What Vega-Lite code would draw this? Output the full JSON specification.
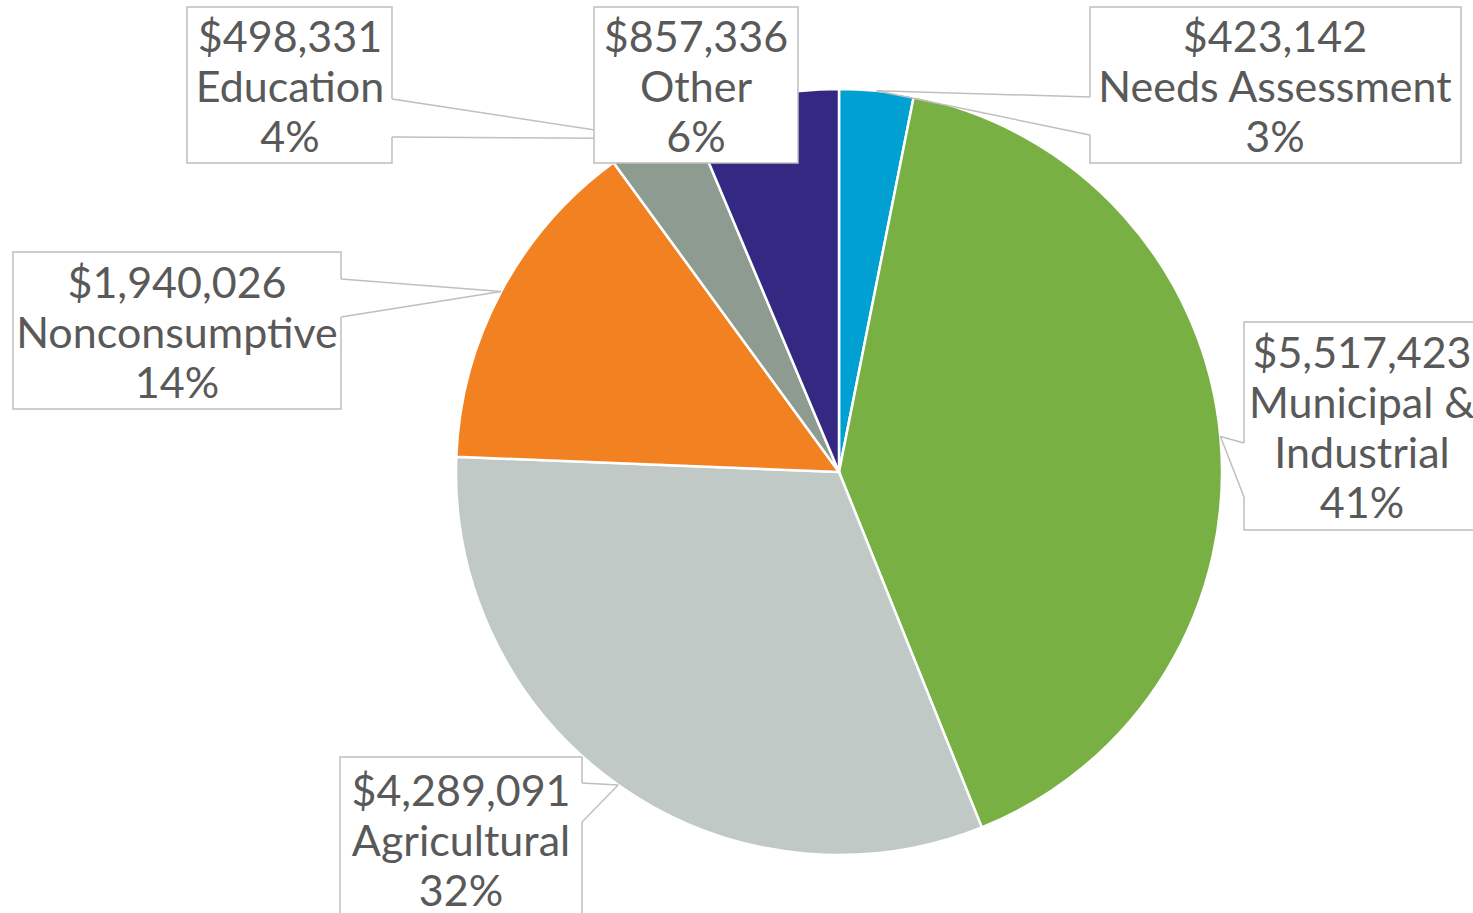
{
  "$schema": "https://vega.github.io/schema/vega-lite/v6.json",
  "width": 1473,
  "height": 913,
  "autosize": {"type": "none"},
  "padding": 0,
  "background": "white",
  "config": {"view": {"stroke": null}},
  "data": {"values": [
    {"rank": 1, "category": "Needs Assessment", "value": 423142},
    {"rank": 2, "category": "Municipal & Industrial", "value": 5517423},
    {"rank": 3, "category": "Agricultural", "value": 4289091},
    {"rank": 4, "category": "Nonconsumptive", "value": 1940026},
    {"rank": 5, "category": "Education", "value": 498331},
    {"rank": 6, "category": "Other", "value": 857336}
  ]},
  "transform": [
    {"joinaggregate": [{"op": "sum", "field": "value", "as": "total"}]},
    {"window": [{"op": "sum", "field": "value", "as": "cum"}], "sort": [{"field": "rank"}], "frame": [null, 0]},
    {"calculate": "(datum.cum - datum.value / 2) / datum.total * 2 * PI", "as": "mid"},
    {"calculate": "sin(datum.mid)", "as": "tipx"},
    {"calculate": "cos(datum.mid)", "as": "tipy"},
    {"calculate": "'$' + format(datum.value, ',') + '\\n' + replace(datum.category, ' & ', ' &\\n') + '\\n' + format(datum.value / datum.total, '.0%')", "as": "label"}
  ],
  "layer": [
    {
      "mark": {"type": "arc", "outerRadius": 383, "stroke": "white", "strokeWidth": 2.5},
      "encoding": {
        "theta": {"field": "value", "type": "quantitative", "stack": true},
        "order": {"field": "rank", "type": "quantitative"},
        "color": {"field": "category", "type": "nominal", "legend": null,
          "scale": {"domain": ["Needs Assessment", "Municipal & Industrial", "Agricultural", "Nonconsumptive", "Education", "Other"],
                    "range": ["#00A0D2", "#78B043", "#C0C9C5", "#F28122", "#8E9B90", "#332882"]}},
        "x": {"datum": 0, "type": "quantitative", "axis": null, "scale": {"domain": [-2.19003, 1.65492], "nice": false, "zero": false}},
        "y": {"datum": 0, "type": "quantitative", "axis": null, "scale": {"domain": [-1.15114, 1.23206], "nice": false, "zero": false}}
      }
    },
    {
      "transform": [{"filter": "datum.category == 'Education'"}],
      "layer": [
        {"mark": {"type": "rect", "fill": "white", "stroke": "#BFBFBF", "strokeWidth": 1.5},
         "encoding": {
           "x": {"datum": -1.7019, "type": "quantitative", "axis": null, "scale": {"domain": [-2.19003, 1.65492], "nice": false, "zero": false}},
           "x2": {"datum": -1.1668},
           "y": {"datum": 1.2138, "type": "quantitative", "axis": null, "scale": {"domain": [-1.15114, 1.23206], "nice": false, "zero": false}},
           "y2": {"datum": 0.8066}}},
        {"mark": {"type": "rule", "stroke": "white", "strokeWidth": 3},
         "encoding": {
           "x": {"datum": -1.1668, "type": "quantitative", "axis": null, "scale": {"domain": [-2.19003, 1.65492], "nice": false, "zero": false}},
           "x2": {"datum": -1.1668},
           "y": {"datum": 0.9736, "type": "quantitative", "axis": null, "scale": {"domain": [-1.15114, 1.23206], "nice": false, "zero": false}},
           "y2": {"datum": 0.8744}}},
        {"mark": {"type": "rule", "stroke": "#BFBFBF", "strokeWidth": 1.5},
         "encoding": {
           "x": {"field": "tipx", "type": "quantitative", "axis": null, "scale": {"domain": [-2.19003, 1.65492], "nice": false, "zero": false}},
           "x2": {"datum": -1.1668},
           "y": {"field": "tipy", "type": "quantitative", "axis": null, "scale": {"domain": [-1.15114, 1.23206], "nice": false, "zero": false}},
           "y2": {"datum": 0.9736}}},
        {"mark": {"type": "rule", "stroke": "#BFBFBF", "strokeWidth": 1.5},
         "encoding": {
           "x": {"field": "tipx", "type": "quantitative", "axis": null, "scale": {"domain": [-2.19003, 1.65492], "nice": false, "zero": false}},
           "x2": {"datum": -1.1668},
           "y": {"field": "tipy", "type": "quantitative", "axis": null, "scale": {"domain": [-1.15114, 1.23206], "nice": false, "zero": false}},
           "y2": {"datum": 0.8744}}},
        {"mark": {"type": "text", "font": "Lato", "fontSize": 43, "fill": "#595959", "lineHeight": 50, "lineBreak": "\n", "align": "center", "baseline": "middle"},
         "encoding": {
           "x": {"datum": -1.4331, "type": "quantitative", "axis": null, "scale": {"domain": [-2.19003, 1.65492], "nice": false, "zero": false}},
           "y": {"datum": 1.1303, "type": "quantitative", "axis": null, "scale": {"domain": [-1.15114, 1.23206], "nice": false, "zero": false}},
           "text": {"field": "label"}}}
      ]
    },
    {
      "transform": [{"filter": "datum.category == 'Nonconsumptive'"}],
      "layer": [
        {"mark": {"type": "rect", "fill": "white", "stroke": "#BFBFBF", "strokeWidth": 1.5},
         "encoding": {
           "x": {"datum": -2.1561, "type": "quantitative", "axis": null, "scale": {"domain": [-2.19003, 1.65492], "nice": false, "zero": false}},
           "x2": {"datum": -1.2999},
           "y": {"datum": 0.5743, "type": "quantitative", "axis": null, "scale": {"domain": [-1.15114, 1.23206], "nice": false, "zero": false}},
           "y2": {"datum": 0.1644}}},
        {"mark": {"type": "rule", "stroke": "white", "strokeWidth": 3},
         "encoding": {
           "x": {"datum": -1.2999, "type": "quantitative", "axis": null, "scale": {"domain": [-2.19003, 1.65492], "nice": false, "zero": false}},
           "x2": {"datum": -1.2999},
           "y": {"datum": 0.5038, "type": "quantitative", "axis": null, "scale": {"domain": [-1.15114, 1.23206], "nice": false, "zero": false}},
           "y2": {"datum": 0.4046}}},
        {"mark": {"type": "rule", "stroke": "#BFBFBF", "strokeWidth": 1.5},
         "encoding": {
           "x": {"field": "tipx", "type": "quantitative", "axis": null, "scale": {"domain": [-2.19003, 1.65492], "nice": false, "zero": false}},
           "x2": {"datum": -1.2999},
           "y": {"field": "tipy", "type": "quantitative", "axis": null, "scale": {"domain": [-1.15114, 1.23206], "nice": false, "zero": false}},
           "y2": {"datum": 0.5038}}},
        {"mark": {"type": "rule", "stroke": "#BFBFBF", "strokeWidth": 1.5},
         "encoding": {
           "x": {"field": "tipx", "type": "quantitative", "axis": null, "scale": {"domain": [-2.19003, 1.65492], "nice": false, "zero": false}},
           "x2": {"datum": -1.2999},
           "y": {"field": "tipy", "type": "quantitative", "axis": null, "scale": {"domain": [-1.15114, 1.23206], "nice": false, "zero": false}},
           "y2": {"datum": 0.4046}}},
        {"mark": {"type": "text", "font": "Lato", "fontSize": 43, "fill": "#595959", "lineHeight": 50, "lineBreak": "\n", "align": "center", "baseline": "middle"},
         "encoding": {
           "x": {"datum": -1.7280, "type": "quantitative", "axis": null, "scale": {"domain": [-2.19003, 1.65492], "nice": false, "zero": false}},
           "y": {"datum": 0.4881, "type": "quantitative", "axis": null, "scale": {"domain": [-1.15114, 1.23206], "nice": false, "zero": false}},
           "text": {"field": "label"}}}
      ]
    },
    {
      "transform": [{"filter": "datum.category == 'Agricultural'"}],
      "layer": [
        {"mark": {"type": "rect", "fill": "white", "stroke": "#BFBFBF", "strokeWidth": 1.5},
         "encoding": {
           "x": {"datum": -1.3025, "type": "quantitative", "axis": null, "scale": {"domain": [-2.19003, 1.65492], "nice": false, "zero": false}},
           "x2": {"datum": -0.6708},
           "y": {"datum": -0.7439, "type": "quantitative", "axis": null, "scale": {"domain": [-1.15114, 1.23206], "nice": false, "zero": false}},
           "y2": {"datum": -1.2216}}},
        {"mark": {"type": "rule", "stroke": "white", "strokeWidth": 3},
         "encoding": {
           "x": {"datum": -0.6708, "type": "quantitative", "axis": null, "scale": {"domain": [-2.19003, 1.65492], "nice": false, "zero": false}},
           "x2": {"datum": -0.6708},
           "y": {"datum": -0.8118, "type": "quantitative", "axis": null, "scale": {"domain": [-1.15114, 1.23206], "nice": false, "zero": false}},
           "y2": {"datum": -0.9136}}},
        {"mark": {"type": "rule", "stroke": "#BFBFBF", "strokeWidth": 1.5},
         "encoding": {
           "x": {"field": "tipx", "type": "quantitative", "axis": null, "scale": {"domain": [-2.19003, 1.65492], "nice": false, "zero": false}},
           "x2": {"datum": -0.6708},
           "y": {"field": "tipy", "type": "quantitative", "axis": null, "scale": {"domain": [-1.15114, 1.23206], "nice": false, "zero": false}},
           "y2": {"datum": -0.8118}}},
        {"mark": {"type": "rule", "stroke": "#BFBFBF", "strokeWidth": 1.5},
         "encoding": {
           "x": {"field": "tipx", "type": "quantitative", "axis": null, "scale": {"domain": [-2.19003, 1.65492], "nice": false, "zero": false}},
           "x2": {"datum": -0.6708},
           "y": {"field": "tipy", "type": "quantitative", "axis": null, "scale": {"domain": [-1.15114, 1.23206], "nice": false, "zero": false}},
           "y2": {"datum": -0.9136}}},
        {"mark": {"type": "text", "font": "Lato", "fontSize": 43, "fill": "#595959", "lineHeight": 50, "lineBreak": "\n", "align": "center", "baseline": "middle"},
         "encoding": {
           "x": {"datum": -0.9867, "type": "quantitative", "axis": null, "scale": {"domain": [-2.19003, 1.65492], "nice": false, "zero": false}},
           "y": {"datum": -0.8379, "type": "quantitative", "axis": null, "scale": {"domain": [-1.15114, 1.23206], "nice": false, "zero": false}},
           "text": {"field": "label"}}}
      ]
    },
    {
      "transform": [{"filter": "datum.category == 'Municipal & Industrial'"}],
      "layer": [
        {"mark": {"type": "rect", "fill": "white", "stroke": "#BFBFBF", "strokeWidth": 1.5},
         "encoding": {
           "x": {"datum": 1.0572, "type": "quantitative", "axis": null, "scale": {"domain": [-2.19003, 1.65492], "nice": false, "zero": false}},
           "x2": {"datum": 1.72},
           "y": {"datum": 0.3915, "type": "quantitative", "axis": null, "scale": {"domain": [-1.15114, 1.23206], "nice": false, "zero": false}},
           "y2": {"datum": -0.1514}}},
        {"mark": {"type": "rule", "stroke": "white", "strokeWidth": 3},
         "encoding": {
           "x": {"datum": 1.0572, "type": "quantitative", "axis": null, "scale": {"domain": [-2.19003, 1.65492], "nice": false, "zero": false}},
           "x2": {"datum": 1.0572},
           "y": {"datum": 0.0757, "type": "quantitative", "axis": null, "scale": {"domain": [-1.15114, 1.23206], "nice": false, "zero": false}},
           "y2": {"datum": -0.0653}}},
        {"mark": {"type": "rule", "stroke": "#BFBFBF", "strokeWidth": 1.5},
         "encoding": {
           "x": {"field": "tipx", "type": "quantitative", "axis": null, "scale": {"domain": [-2.19003, 1.65492], "nice": false, "zero": false}},
           "x2": {"datum": 1.0572},
           "y": {"field": "tipy", "type": "quantitative", "axis": null, "scale": {"domain": [-1.15114, 1.23206], "nice": false, "zero": false}},
           "y2": {"datum": 0.0757}}},
        {"mark": {"type": "rule", "stroke": "#BFBFBF", "strokeWidth": 1.5},
         "encoding": {
           "x": {"field": "tipx", "type": "quantitative", "axis": null, "scale": {"domain": [-2.19003, 1.65492], "nice": false, "zero": false}},
           "x2": {"datum": 1.0572},
           "y": {"field": "tipy", "type": "quantitative", "axis": null, "scale": {"domain": [-1.15114, 1.23206], "nice": false, "zero": false}},
           "y2": {"datum": -0.0653}}},
        {"mark": {"type": "text", "font": "Lato", "fontSize": 43, "fill": "#595959", "lineHeight": 50, "lineBreak": "\n", "align": "center", "baseline": "middle"},
         "encoding": {
           "x": {"datum": 1.3652, "type": "quantitative", "axis": null, "scale": {"domain": [-2.19003, 1.65492], "nice": false, "zero": false}},
           "y": {"datum": 0.3054, "type": "quantitative", "axis": null, "scale": {"domain": [-1.15114, 1.23206], "nice": false, "zero": false}},
           "text": {"field": "label"}}}
      ]
    },
    {
      "transform": [{"filter": "datum.category == 'Needs Assessment'"}],
      "layer": [
        {"mark": {"type": "rect", "fill": "white", "stroke": "#BFBFBF", "strokeWidth": 1.5},
         "encoding": {
           "x": {"datum": 0.6552, "type": "quantitative", "axis": null, "scale": {"domain": [-2.19003, 1.65492], "nice": false, "zero": false}},
           "x2": {"datum": 1.6236},
           "y": {"datum": 1.2138, "type": "quantitative", "axis": null, "scale": {"domain": [-1.15114, 1.23206], "nice": false, "zero": false}},
           "y2": {"datum": 0.8066}}},
        {"mark": {"type": "rule", "stroke": "white", "strokeWidth": 3},
         "encoding": {
           "x": {"datum": 0.6552, "type": "quantitative", "axis": null, "scale": {"domain": [-2.19003, 1.65492], "nice": false, "zero": false}},
           "x2": {"datum": 0.6552},
           "y": {"datum": 0.9789, "type": "quantitative", "axis": null, "scale": {"domain": [-1.15114, 1.23206], "nice": false, "zero": false}},
           "y2": {"datum": 0.8797}}},
        {"mark": {"type": "rule", "stroke": "#BFBFBF", "strokeWidth": 1.5},
         "encoding": {
           "x": {"field": "tipx", "type": "quantitative", "axis": null, "scale": {"domain": [-2.19003, 1.65492], "nice": false, "zero": false}},
           "x2": {"datum": 0.6552},
           "y": {"field": "tipy", "type": "quantitative", "axis": null, "scale": {"domain": [-1.15114, 1.23206], "nice": false, "zero": false}},
           "y2": {"datum": 0.9789}}},
        {"mark": {"type": "rule", "stroke": "#BFBFBF", "strokeWidth": 1.5},
         "encoding": {
           "x": {"field": "tipx", "type": "quantitative", "axis": null, "scale": {"domain": [-2.19003, 1.65492], "nice": false, "zero": false}},
           "x2": {"datum": 0.6552},
           "y": {"field": "tipy", "type": "quantitative", "axis": null, "scale": {"domain": [-1.15114, 1.23206], "nice": false, "zero": false}},
           "y2": {"datum": 0.8797}}},
        {"mark": {"type": "text", "font": "Lato", "fontSize": 43, "fill": "#595959", "lineHeight": 50, "lineBreak": "\n", "align": "center", "baseline": "middle"},
         "encoding": {
           "x": {"datum": 1.1381, "type": "quantitative", "axis": null, "scale": {"domain": [-2.19003, 1.65492], "nice": false, "zero": false}},
           "y": {"datum": 1.1303, "type": "quantitative", "axis": null, "scale": {"domain": [-1.15114, 1.23206], "nice": false, "zero": false}},
           "text": {"field": "label"}}}
      ]
    },
    {
      "transform": [{"filter": "datum.category == 'Other'"}],
      "layer": [
        {"mark": {"type": "rect", "fill": "white", "stroke": "#BFBFBF", "strokeWidth": 1.5},
         "encoding": {
           "x": {"datum": -0.6395, "type": "quantitative", "axis": null, "scale": {"domain": [-2.19003, 1.65492], "nice": false, "zero": false}},
           "x2": {"datum": -0.1070},
           "y": {"datum": 1.2138, "type": "quantitative", "axis": null, "scale": {"domain": [-1.15114, 1.23206], "nice": false, "zero": false}},
           "y2": {"datum": 0.8066}}},
        {"mark": {"type": "text", "font": "Lato", "fontSize": 43, "fill": "#595959", "lineHeight": 50, "lineBreak": "\n", "align": "center", "baseline": "middle"},
         "encoding": {
           "x": {"datum": -0.3733, "type": "quantitative", "axis": null, "scale": {"domain": [-2.19003, 1.65492], "nice": false, "zero": false}},
           "y": {"datum": 1.1303, "type": "quantitative", "axis": null, "scale": {"domain": [-1.15114, 1.23206], "nice": false, "zero": false}},
           "text": {"field": "label"}}}
      ]
    }
  ]
}
